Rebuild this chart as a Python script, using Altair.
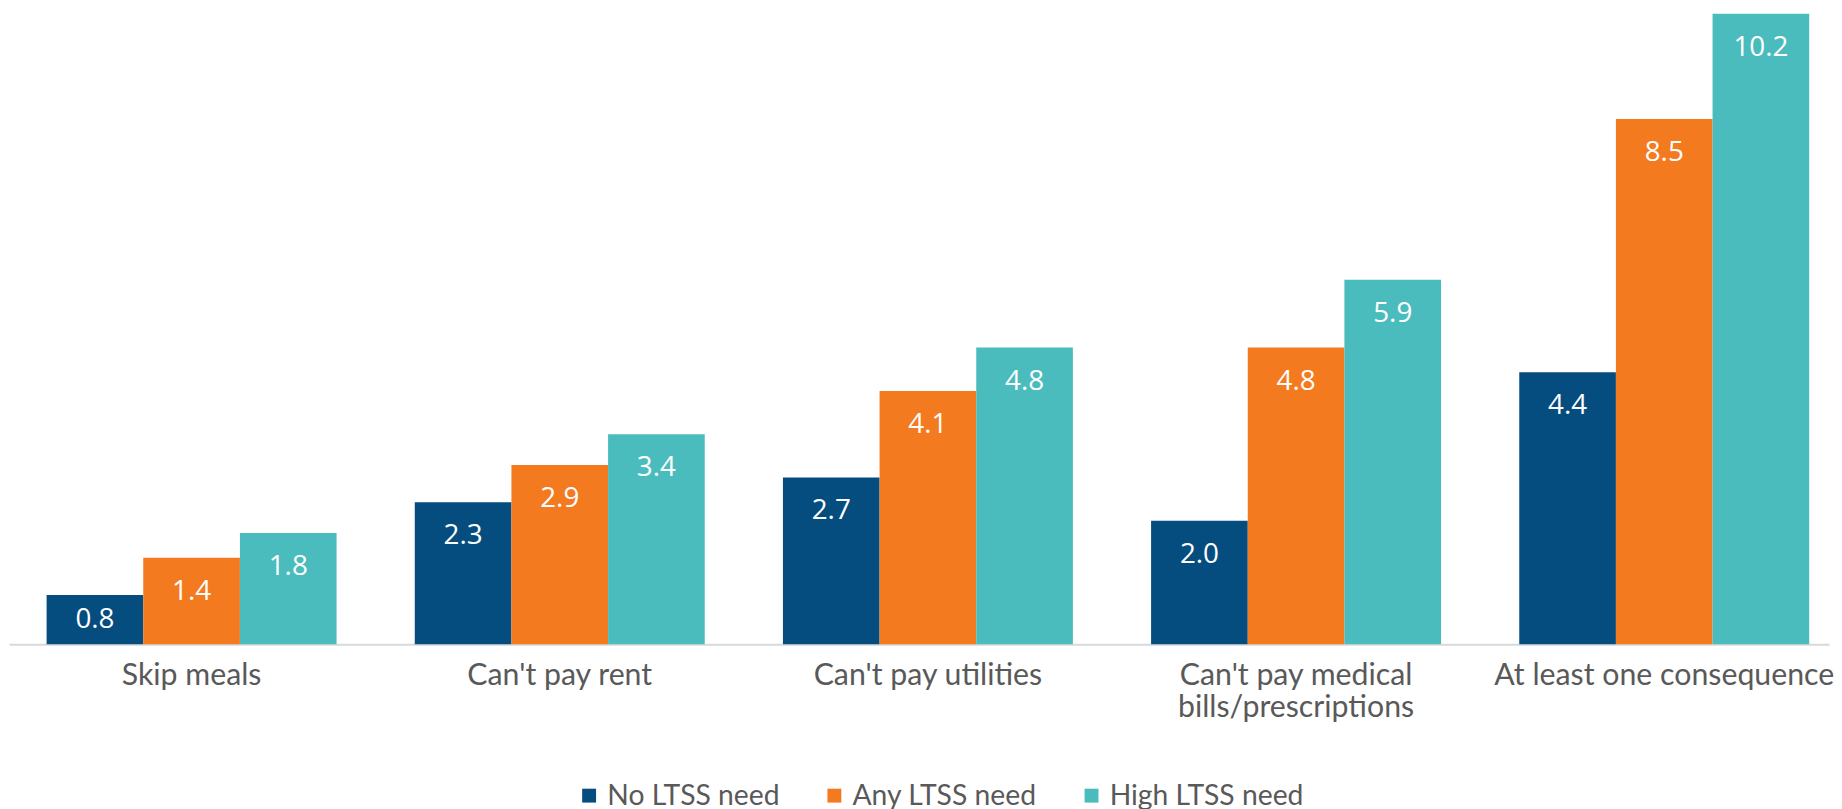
import altair as alt
import pandas as pd

categories = ["Skip meals", "Can't pay rent", "Can't pay utilities",
              "Can't pay medical|bills/prescriptions", "At least one consequence"]
series = ["No LTSS need", "Any LTSS need", "High LTSS need"]
no_ltss = [0.8, 2.3, 2.7, 2.0, 4.4]
any_ltss = [1.4, 2.9, 4.1, 4.8, 8.5]
high_ltss = [1.8, 3.4, 4.8, 5.9, 10.2]
colors = ["#054C7F", "#F47A20", "#4BBCBD"]

rows = []
for i, c in enumerate(categories):
    for s, vals in zip(series, [no_ltss, any_ltss, high_ltss]):
        rows.append({"category": c, "series": s, "value": vals[i]})
df = pd.DataFrame(rows)

x = alt.X("category:N", sort=categories, title=None,
          scale=alt.Scale(paddingInner=0.2124, paddingOuter=0.078, align=0.655),
          axis=alt.Axis(labelAngle=0, ticks=False, domainColor="#D9D9D9", domainWidth=2,
                        labelFont="Lato", labelFontSize=30.5, labelColor="#595959",
                        labelPadding=16, labelLineHeight=33, labelLimit=1000,
                        labelOverlap=False, labelExpr="split(datum.label, '|')"))
xo = alt.XOffset("series:N", sort=series, scale=alt.Scale(paddingInner=0, paddingOuter=0))

bars = alt.Chart(df).mark_bar().encode(
    x=x, xOffset=xo,
    y=alt.Y("value:Q", scale=alt.Scale(domain=[0, 10.2], nice=False), axis=None),
    color=alt.Color("series:N", sort=series,
                    scale=alt.Scale(domain=series, range=colors),
                    legend=alt.Legend(title=None, orient="none", direction="horizontal",
                                      legendX=570, legendY=773, symbolType="square",
                                      symbolSize=196, symbolStrokeWidth=0,
                                      labelFont="Lato", labelFontSize=28.5,
                                      labelColor="#595959", labelOffset=4,
                                      labelLimit=500, columnPadding=40)),
)

labels = alt.Chart(df).transform_calculate(
    ly="max(datum.value - 0.55, datum.value / 2)"
).mark_text(font="Open Sans", fontSize=28, color="white", baseline="middle").encode(
    x=x, xOffset=xo,
    y=alt.Y("ly:Q", scale=alt.Scale(domain=[0, 10.2], nice=False), axis=None),
    text=alt.Text("value:Q", format=".1f"),
)

chart = alt.layer(bars, labels).properties(
    width=1833, height=635,
    padding={"left": 1, "top": 3, "right": 0, "bottom": 0},
).configure_view(stroke=None).configure_axis(grid=False)

chart.save("out.html", embed_options={"renderer": "svg", "actions": False})
